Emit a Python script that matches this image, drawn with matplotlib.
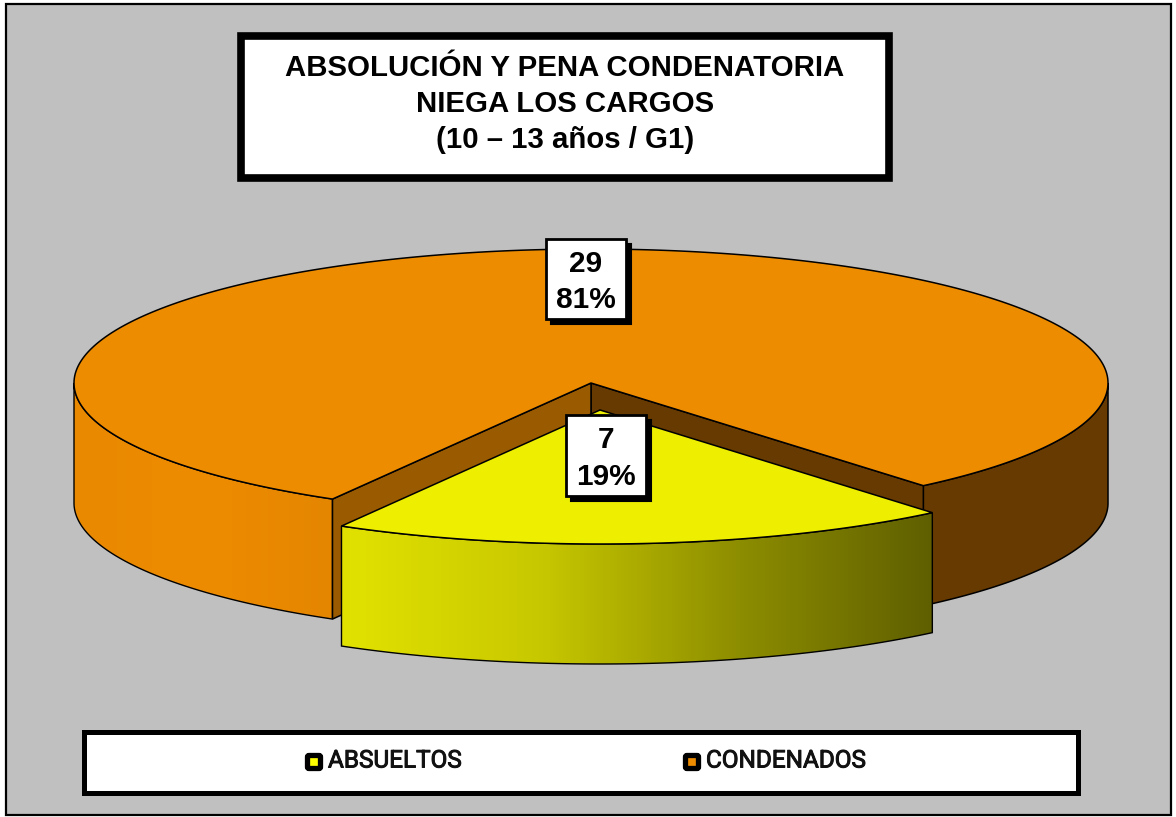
import numpy as np
import matplotlib
matplotlib.use("Agg")
import matplotlib.pyplot as plt
from matplotlib.colors import LinearSegmentedColormap
from matplotlib.patches import Polygon, Rectangle, FancyBboxPatch
import matplotlib.patheffects as pe

plt.rcParams['font.family'] = ['Liberation Sans', 'DejaVu Sans']

categories = ["ABSUELTOS", "CONDENADOS"]
values = [7, 29]
title_lines = ["ABSOLUCIÓN Y PENA CONDENATORIA", "NIEGA LOS CARGOS", "(10 – 13 años / G1)"]

YELLOW = "#EEEE00"
ORANGE = "#EE8C00"
BROWN = "#663A00"
MID_BROWN = "#995A00"
GRAY = "#C0C0C0"

# pie geometry in pixels
cx, cy = 591, 383
rx, ry = 517, 134
depth = 120
offset = (9, 27)
start = 50  # degrees, measured clockwise on screen from the right


def arc(a0, a1, dx=0, dy=0, n=200):
    t = np.radians(np.linspace(a0, a1, n))
    return np.column_stack([cx + dx + rx * np.cos(t), cy + dy + ry * np.sin(t)])


def side_poly(a0, a1, dx=0, dy=0):
    top = arc(a0, a1, dx, dy)
    bottom = top[::-1] + [0, depth]
    return np.vstack([top, bottom])


def gradient_fill(ax, verts, colors):
    x0, x1 = verts[:, 0].min(), verts[:, 0].max()
    y0, y1 = verts[:, 1].min(), verts[:, 1].max()
    cmap = LinearSegmentedColormap.from_list("g", colors)
    img = ax.imshow(np.linspace(0, 1, 256).reshape(1, -1), cmap=cmap, extent=(x0, x1, y1, y0),
                    aspect="auto", zorder=ax.zorder_next)
    clip = Polygon(verts, closed=True, transform=ax.transData, fc="none", ec="none")
    ax.add_patch(clip)
    img.set_clip_path(clip)
    ax.zorder_next += 0.1
    ax.add_patch(Polygon(verts, closed=True, fc="none", ec="black", lw=1.0, zorder=ax.zorder_next))
    ax.zorder_next += 0.1


def face(ax, verts, color):
    ax.add_patch(Polygon(verts, closed=True, fc=color, ec="black", lw=1.1, zorder=ax.zorder_next))
    ax.zorder_next += 0.1


fig = plt.figure(figsize=(11.76, 8.17), dpi=100)
ax = fig.add_axes([0, 0, 1, 1])
ax.zorder_next = 2
ax.axis("off")

# chart area
ax.add_patch(Rectangle((5.5, 3.5), 1165, 811, fc=GRAY, ec="black", lw=1.6, zorder=1))

total = sum(values)
yellow_span = 360 * values[0] / total
a_y0, a_y1 = start, start + yellow_span
p_y0 = np.array([cx + rx * np.cos(np.radians(a_y0)), cy + ry * np.sin(np.radians(a_y0))])
p_y1 = np.array([cx + rx * np.cos(np.radians(a_y1)), cy + ry * np.sin(np.radians(a_y1))])

# orange slice: outer sides
gradient_fill(ax, side_poly(a_y1, 180), ["#E98900", ORANGE, "#E58600"])
face(ax, side_poly(0, a_y0), BROWN)
# inner walls
face(ax, np.array([[cx, cy], p_y0, p_y0 + [0, depth], [cx, cy + depth]]), BROWN)
face(ax, np.array([[cx, cy], p_y1, p_y1 + [0, depth], [cx, cy + depth]]), MID_BROWN)
# orange top
face(ax, np.vstack([[cx, cy], arc(a_y1, start + 360, n=400)]), ORANGE)

# yellow slice, pulled out
gradient_fill(ax, side_poly(a_y0, a_y1, *offset), ["#E2E200", "#C8C800", "#8E8E00", "#5F5F00"])
face(ax, np.vstack([[cx + offset[0], cy + offset[1]], arc(a_y0, a_y1, *offset)]), YELLOW)


def label_box(x0, y0, x1, y1, text):
    ax.add_patch(Rectangle((x0 + 5, y0 + 5), x1 - x0, y1 - y0, fc="black", ec="black", lw=1.5, zorder=8))
    ax.add_patch(Rectangle((x0, y0), x1 - x0, y1 - y0, fc="white", ec="black", lw=2.0, zorder=9))
    ax.text((x0 + x1) / 2, (y0 + y1) / 2 + 3, text, ha="center", va="center", fontsize=21.5,
            fontweight="bold", linespacing=1.38, zorder=10)


label_box(546, 239, 626, 319, f"{values[1]}\n{round(100 * values[1] / total)}%")
label_box(566, 415, 646, 496, f"{values[0]}\n{round(100 * values[0] / total)}%")

# title box
ax.add_patch(Rectangle((241, 36), 648, 142, fc="white", ec="black", lw=5.5, zorder=8))
ax.text(565, 104, "\n".join(title_lines), ha="center", va="center", fontsize=21.2,
        fontweight="bold", linespacing=1.35, zorder=10)

# legend box
ax.add_patch(Rectangle((84, 732), 994, 61, fc="white", ec="black", lw=3.6, zorder=8))
for x, fc, name, tx in [(307.5, "#FFFF00", categories[0], 328), (685.5, ORANGE, categories[1], 706)]:
    ax.add_patch(FancyBboxPatch((x, 755.5), 13, 13, boxstyle="round,pad=0,rounding_size=1.5",
                                fc=fc, ec="black", lw=3.8, zorder=9))
    ax.text(tx, 761, name, ha="left", va="center", fontsize=17.5, color="#111111", zorder=10,
            family=['Roboto', 'Liberation Sans'],
            path_effects=[pe.withStroke(linewidth=0.7, foreground="#111111")])

ax.set_xlim(0, 1176)
ax.set_ylim(817, 0)

fig.savefig("out.png", dpi=100, facecolor="white")
